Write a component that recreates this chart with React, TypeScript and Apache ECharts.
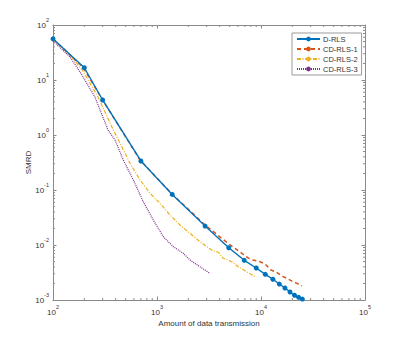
import React, { useEffect, useRef } from "react";
import * as echarts from "echarts";

// ---- data ----
const dRlsX = [100, 200, 300, 700, 1400, 2900, 4900, 6900, 9000, 11000, 13000, 15000, 17000, 19000, 21000, 23000, 25000];
const dRlsY = [56, 16.7, 4.33, 0.337, 0.083, 0.0221, 0.0089, 0.00527, 0.00382, 0.00293, 0.00238, 0.00195, 0.00165, 0.0014, 0.00122, 0.00112, 0.00104];

const cd1X = [100, 194, 296, 687, 1393, 2897, 4920, 6280, 7450, 8370, 9770, 10920, 12470, 13930, 15920, 17780, 19860, 22180, 24770];
const cd1Y = [55.6, 17.2, 4.52, 0.351, 0.0846, 0.0231, 0.0104, 0.00746, 0.00587, 0.00534, 0.00497, 0.00452, 0.00351, 0.00323, 0.00273, 0.00246, 0.00221, 0.002, 0.0018];

const cd2X = [100, 146, 194, 271, 380, 441, 550, 687, 857, 1069, 1334, 1663, 2075, 2588, 3356, 3884, 4343, 5227, 6051, 7285, 8753];
const cd2Y = [53.4, 28.5, 14.6, 4.91, 1.23, 0.706, 0.306, 0.152, 0.087, 0.0573, 0.0351, 0.0231, 0.0163, 0.01148, 0.0081, 0.00737, 0.00573, 0.00497, 0.00403, 0.00327, 0.00265];

const cd3X = [100, 146, 190, 253, 338, 395, 474, 592, 738, 920, 1150, 1436, 1791, 2075, 2588, 3236];
const cd3Y = [51.2, 26.2, 12.3, 4.91, 1.23, 0.811, 0.351, 0.152, 0.0612, 0.0285, 0.01416, 0.00931, 0.00706, 0.00534, 0.00403, 0.00305];

const seriesNames = ["D-RLS", "CD-RLS-1", "CD-RLS-2", "CD-RLS-3"];
const xMin = 100;
const xMax = 100000;
const yMin = 0.001;
const yMax = 100;
const xMinorTicks = [200, 300, 400, 500, 600, 700, 800, 900, 2000, 3000, 4000, 5000, 6000, 7000, 8000, 9000, 20000, 30000, 40000, 50000, 60000, 70000, 80000, 90000];
const yMinorTicks = [
  0.002, 0.003, 0.004, 0.005, 0.006, 0.007, 0.008, 0.009,
  0.02, 0.03, 0.04, 0.05, 0.06, 0.07, 0.08, 0.09,
  0.2, 0.3, 0.4, 0.5, 0.6, 0.7, 0.8, 0.9,
  2, 3, 4, 5, 6, 7, 8, 9,
  20, 30, 40, 50, 60, 70, 80, 90,
];

const COLORS = ["#0072BD", "#D95319", "#EDB120", "#7E2F8E"];
const FONT = "Liberation Sans, Arial, Helvetica, sans-serif";
const AXIS_COLOR = "#8a8a8a";
const TEXT_COLOR = "#333";

const zip = (xs: number[], ys: number[]) => xs.map((x, i) => [x, ys[i]]);

const labelFmt = (v: number) => {
  const e = Math.round(Math.log10(v));
  return `{b|10}{s|${e}}`;
};

const richLabel = {
  b: { fontSize: 8, fontFamily: FONT, color: TEXT_COLOR, lineHeight: 16, verticalAlign: "middle" },
  s: { fontSize: 5.5, fontFamily: FONT, color: TEXT_COLOR, lineHeight: 6, verticalAlign: "top" },
};

export default function App() {
  const ref = useRef<HTMLDivElement>(null);
  useEffect(() => {
    if (!ref.current) return;
    const chart = echarts.init(ref.current, null, { renderer: "svg" });

    const baseAxisLine = { show: true, lineStyle: { color: AXIS_COLOR, width: 1 } };
    const baseTick = { show: true, inside: true, length: 3.5, lineStyle: { color: AXIS_COLOR, width: 1 } };

    const minorData: any[] = [];
    xMinorTicks.forEach((x) => minorData.push([x, yMin, 0]));
    yMinorTicks.forEach((y) => minorData.push([xMin, y, 1]));

    chart.setOption({
      animation: false,
      backgroundColor: "#fff",
      grid: { left: 53, right: 39, top: 25, bottom: 38, containLabel: false },
      legend: {
        orient: "vertical",
        left: 292,
        top: 33,
        data: seriesNames,
        backgroundColor: "#fff",
        borderColor: "#9a9a9a",
        borderWidth: 1,
        padding: [2, 4, 2, 4],
        itemWidth: 23,
        itemHeight: 6,
        itemGap: 2,
        textStyle: { fontSize: 7.5, fontFamily: FONT, color: TEXT_COLOR, lineHeight: 8, padding: [0, 0, 0, -2] },
      },
      xAxis: [
        {
          type: "log",
          logBase: 10,
          min: xMin,
          max: xMax,
          name: "Amount of data transmission",
          nameLocation: "middle",
          nameGap: 19,
          nameMoveOverlap: false,
          nameTextStyle: { fontSize: 8, fontFamily: FONT, color: TEXT_COLOR },
          axisLine: baseAxisLine,
          axisTick: baseTick,
          splitLine: { show: false },
          axisLabel: { formatter: labelFmt, rich: richLabel, margin: 4 },
        },
        {
          type: "log",
          logBase: 10,
          min: xMin,
          max: xMax,
          position: "top",
          axisLine: baseAxisLine,
          axisTick: baseTick,
          axisLabel: { show: false },
          splitLine: { show: false },
        },
      ],
      yAxis: [
        {
          type: "log",
          logBase: 10,
          min: yMin,
          max: yMax,
          name: "SMRD",
          nameLocation: "middle",
          nameGap: 21,
          nameMoveOverlap: false,
          nameRotate: 90,
          nameTextStyle: { fontSize: 8, fontFamily: FONT, color: TEXT_COLOR },
          axisLine: baseAxisLine,
          axisTick: baseTick,
          splitLine: { show: false },
          axisLabel: { formatter: labelFmt, rich: richLabel, margin: 4 },
        },
        {
          type: "log",
          logBase: 10,
          min: yMin,
          max: yMax,
          position: "right",
          axisLine: baseAxisLine,
          axisTick: baseTick,
          axisLabel: { show: false },
          splitLine: { show: false },
        },
      ],
      series: [
        {
          type: "custom",
          name: "minorTicks",
          silent: true,
          clip: false,
          data: minorData,
          renderItem: (params: any, api: any) => {
            const kind = api.value(2);
            const style = { stroke: AXIS_COLOR, lineWidth: 1 };
            const L = 2;
            if (kind === 0) {
              const x = api.value(0);
              const b = api.coord([x, yMin]);
              const t = api.coord([x, yMax]);
              return {
                type: "group",
                children: [
                  { type: "line", shape: { x1: b[0], y1: b[1], x2: b[0], y2: b[1] - L }, style },
                  { type: "line", shape: { x1: t[0], y1: t[1], x2: t[0], y2: t[1] + L }, style },
                ],
              };
            }
            const y = api.value(1);
            const l = api.coord([xMin, y]);
            const r = api.coord([xMax, y]);
            return {
              type: "group",
              children: [
                { type: "line", shape: { x1: l[0], y1: l[1], x2: l[0] + L, y2: l[1] }, style },
                { type: "line", shape: { x1: r[0], y1: r[1], x2: r[0] - L, y2: r[1] }, style },
              ],
            };
          },
          z: 1,
        },
        {
          name: seriesNames[0],
          type: "line",
          data: zip(dRlsX, dRlsY),
          color: COLORS[0],
          symbol: "circle",
          symbolSize: 5,
          showSymbol: true,
          lineStyle: { width: 1.4, color: COLORS[0] },
          itemStyle: { color: COLORS[0] },
          z: 5,
        },
        {
          name: seriesNames[1],
          type: "line",
          data: zip(cd1X, cd1Y),
          color: COLORS[1],
          symbol: "none",
          lineStyle: { width: 1.5, color: COLORS[1], type: [4, 3] },
          z: 4,
        },
        {
          name: seriesNames[2],
          type: "line",
          data: zip(cd2X, cd2Y),
          color: COLORS[2],
          symbol: "none",
          lineStyle: { width: 1.2, color: COLORS[2], type: [4, 1.5, 1, 1.5] },
          z: 3,
        },
        {
          name: seriesNames[3],
          type: "line",
          data: zip(cd3X, cd3Y),
          color: COLORS[3],
          symbol: "none",
          lineStyle: { width: 1.2, color: COLORS[3], type: [1, 1] },
          z: 2,
        },
      ],
    });
    return () => chart.dispose();
  }, []);
  return <div ref={ref} style={{ width: 404, height: 338, position: "absolute", left: 0, top: 0 }} />;
}
